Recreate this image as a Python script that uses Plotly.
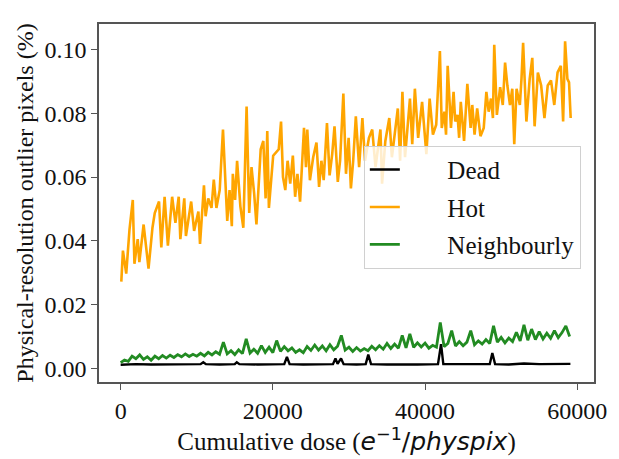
import plotly.graph_objects as go

# ---- Hot pixels ----
hot_dose = [87, 300, 733, 1164, 1595, 1810, 2241, 2457, 3017, 3663, 4180, 4482, 5043, 5344, 5775, 6206,
            6766, 7197, 7629, 7844, 8361, 8576, 9266, 9654, 10215, 10430, 10947, 11163, 11508, 11939,
            12240, 12585, 13016, 13447, 14007, 14309, 14610, 14740, 15041, 15300, 15731, 16119, 16550,
            16895, 17197, 17542, 17843, 18188, 18403, 18749, 19050, 19266, 19481, 20043, 20774, 21076,
            21334, 21636, 21938, 22283, 22628, 22929, 23231, 23576, 24093, 24352, 24524, 24869, 25300,
            25731, 26076, 26378, 26680, 27111, 27456, 27800, 28102, 28533, 28834, 29265, 29610, 29955,
            30256, 30558, 30903, 31334, 31766, 32111, 32628, 33059, 33490, 34136, 34352, 34783, 35300,
            35645, 36076, 36421, 36722, 37024, 37369, 37714, 38015, 38317, 38662, 39093, 39610, 40171,
            40602, 41033, 41464, 41950, 42196, 42540, 42756, 42971, 43402, 43747, 43962, 44264, 44480,
            44695, 45126, 45557, 45988, 46204, 46505, 46850, 47281, 47712, 48057, 48359, 48661, 48919,
            49092, 49437, 49868, 50213, 50515, 50816, 51161, 51463, 51722, 52024, 52455, 52670, 52886,
            53317, 53748, 54093, 54394, 54825, 55256, 55687, 56118, 56549, 56980, 57411, 57842, 58144,
            58403, 58703, 58920, 59135]
hot_pct = [0.0272, 0.0369, 0.0297, 0.0436, 0.0528, 0.0328, 0.0405, 0.0333, 0.0451, 0.0313, 0.0441,
           0.0487, 0.0523, 0.0379, 0.0538, 0.0385, 0.0538, 0.0456, 0.0538, 0.0405, 0.0533, 0.0415,
           0.0523, 0.0431, 0.0492, 0.0390, 0.0574, 0.0477, 0.0533, 0.0503, 0.0592, 0.0503, 0.0559,
           0.0749, 0.0462, 0.0559, 0.0446, 0.0610, 0.0528, 0.0651, 0.0508, 0.0441, 0.0821, 0.0487,
           0.0631, 0.0549, 0.0451, 0.0626, 0.0687, 0.0713, 0.0533, 0.0744, 0.0503, 0.0667, 0.0687,
           0.0774, 0.0600, 0.0559, 0.0651, 0.0579, 0.0667, 0.0538, 0.0610, 0.0523, 0.0754, 0.0631,
           0.0749, 0.0590, 0.0662, 0.0708, 0.0569, 0.0651, 0.0590, 0.0769, 0.0605, 0.0672, 0.0759,
           0.0585, 0.0651, 0.0862, 0.0610, 0.0723, 0.0564, 0.0651, 0.0790, 0.0631, 0.0785, 0.0651,
           0.0723, 0.0749, 0.0631, 0.0749, 0.0579, 0.0713, 0.0785, 0.0662, 0.0754, 0.0815, 0.0651,
           0.0867, 0.0662, 0.0764, 0.0846, 0.0703, 0.0877, 0.0723, 0.0836, 0.0672, 0.0846, 0.0733,
           0.0764, 0.0995, 0.0754, 0.0805, 0.0733, 0.0949, 0.0754, 0.0867, 0.0774, 0.0795, 0.0723,
           0.0836, 0.0713, 0.0892, 0.0754, 0.0826, 0.0733, 0.0815, 0.0728, 0.0754, 0.0867, 0.0805,
           0.0846, 0.0785, 0.1015, 0.0795, 0.0882, 0.0826, 0.0959, 0.0887, 0.0826, 0.0877, 0.0703,
           0.0877, 0.0826, 0.0908, 0.1021, 0.0774, 0.0908, 0.0974, 0.0759, 0.0928, 0.0887, 0.0785,
           0.0887, 0.0903, 0.0826, 0.0928, 0.0949, 0.0774, 0.1026, 0.0908, 0.0897, 0.0785]

# ---- Neighbourly pixels ----
nb_dose = list(range(0, 59001, 500))
nb_pct = [0.0018, 0.0026, 0.0022, 0.0038, 0.0030, 0.0042, 0.0028, 0.0036, 0.0025, 0.0038,
          0.0030, 0.0040, 0.0032, 0.0041, 0.0034, 0.0043, 0.0036, 0.0045, 0.0037, 0.0044,
          0.0038, 0.0047, 0.0039, 0.0050, 0.0042, 0.0052, 0.0044, 0.0082, 0.0045, 0.0055,
          0.0043, 0.0058, 0.0046, 0.0092, 0.0048, 0.0060, 0.0047, 0.0071, 0.0050, 0.0066,
          0.0049, 0.0087, 0.0053, 0.0068, 0.0055, 0.0064, 0.0050, 0.0058, 0.0049, 0.0068,
          0.0056, 0.0073, 0.0057, 0.0070, 0.0055, 0.0074, 0.0058, 0.0069, 0.0103, 0.0057,
          0.0066, 0.0053, 0.0065, 0.0054, 0.0062, 0.0055, 0.0069, 0.0058, 0.0071, 0.0060,
          0.0078, 0.0062, 0.0076, 0.0063, 0.0103, 0.0064, 0.0108, 0.0066, 0.0080, 0.0067,
          0.0079, 0.0063, 0.0072, 0.0066, 0.0144, 0.0068, 0.0078, 0.0118, 0.0070, 0.0084,
          0.0071, 0.0082, 0.0118, 0.0074, 0.0086, 0.0076, 0.0090, 0.0078, 0.0133, 0.0082,
          0.0097, 0.0080, 0.0095, 0.0084, 0.0113, 0.0086, 0.0136, 0.0088, 0.0123, 0.0090,
          0.0115, 0.0092, 0.0110, 0.0094, 0.0118, 0.0096, 0.0112, 0.0133, 0.0100]

# ---- Dead pixels ----
dead_dose = [0, 2000, 4000, 6000, 8000, 10500, 10860, 11200, 13000, 15000, 15260, 15600, 18000,
             20000, 21500, 21850, 22200, 24000, 26000, 27900, 28230, 28500, 28960, 29300, 31000,
             32200, 32540, 32900, 35000, 37000, 39000, 41700, 42000, 42100, 42400, 44000, 46000,
             48500, 48840, 49200, 51000, 53000, 55000, 57000, 59100]
dead_pct = [0.0011, 0.0013, 0.0012, 0.0013, 0.0012, 0.0013, 0.0019, 0.0013, 0.0012, 0.0013,
            0.0019, 0.0013, 0.0012, 0.0013, 0.0013, 0.0036, 0.0013, 0.0012, 0.0013, 0.0013,
            0.0031, 0.0014, 0.0031, 0.0013, 0.0012, 0.0013, 0.0043, 0.0013, 0.0012, 0.0013,
            0.0012, 0.0013, 0.0075, 0.0076, 0.0013, 0.0013, 0.0012, 0.0013, 0.0048, 0.0013,
            0.0012, 0.0015, 0.0013, 0.0014, 0.0014]

x_ticks = [0, 20000, 40000, 60000]
y_ticks = [0.00, 0.02, 0.04, 0.06, 0.08, 0.10]
series_names = ["Dead", "Hot", "Neighbourly"]

SERIF = "Liberation Serif, Times New Roman, serif"
PAD = "\u2007\u2007\u2007\u2009"  # gap between legend line and label

fig = go.Figure()
fig.add_trace(go.Scatter(x=dead_dose, y=dead_pct, mode="lines", name=PAD + series_names[0],
                         legendgroup="a", line=dict(color="black", width=2.4)))
fig.add_trace(go.Scatter(x=hot_dose, y=hot_pct, mode="lines", name=PAD + series_names[1],
                         legendgroup="b", line=dict(color="#FFA500", width=2.6)))
fig.add_trace(go.Scatter(x=nb_dose, y=nb_pct, mode="lines", name=PAD + series_names[2],
                         legendgroup="c", line=dict(color="#228B22", width=2.8)))

axis_common = dict(showline=True, mirror=True, linecolor="#555555", linewidth=1.5,
                   ticks="outside", ticklen=6, tickwidth=1.2, tickcolor="#555555",
                   showgrid=False, zeroline=False,
                   tickfont=dict(family=SERIF, size=24, color="#111111"))

fig.update_layout(
    width=619, height=459,
    margin=dict(l=99, r=17, t=24, b=70),
    paper_bgcolor="white", plot_bgcolor="white",
    font=dict(family=SERIF, size=24, color="#111111"),
    xaxis=dict(range=[-2845, 62200], tickvals=x_ticks, tickformat="d",
               title=dict(text='Cumulative dose (<span style="font-family:DejaVu Sans"><i>e</i><sup>−1</sup>/<i>physpix</i></span>)',
                          font=dict(family=SERIF, size=25), standoff=6),
               **axis_common),
    yaxis=dict(range=[-0.0043, 0.108], tickvals=y_ticks, tickformat=".2f",
               title=dict(text="Physical-resolution outlier pixels (%)",
                          font=dict(family=SERIF, size=24), standoff=4),
               **axis_common),
    legend=dict(x=0.535, y=0.66, xanchor="left", yanchor="top",
                bgcolor="rgba(255,255,255,0.8)", bordercolor="#d0d0d0", borderwidth=1,
                font=dict(family=SERIF, size=25, color="#111111"),
                tracegroupgap=2),
    showlegend=True,
)

fig.write_html("out.html")
